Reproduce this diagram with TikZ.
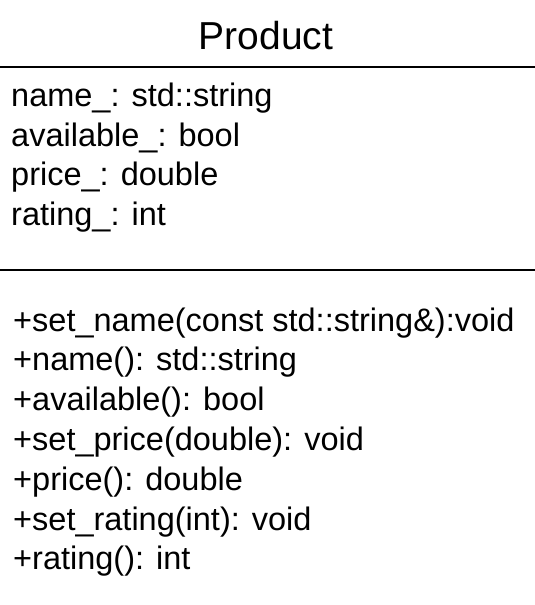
\documentclass[tikz,border=0pt]{standalone}
\usepackage{fontspec}
\setmainfont{Liberation Sans}
\begin{document}
\begin{tikzpicture}[x=1pt,y=-1pt,
  member/.style={anchor=west,inner sep=0pt,font=\fontsize{32.5}{36}\selectfont},
  title/.style={inner sep=0pt,font=\fontsize{39}{44}\selectfont},
  rule/.style={line width=1.6pt}]
\useasboundingbox (0,0) rectangle (535,605);
\node[title] (t) at (266,36) {Product};
\coordinate (r1a) at (0,67); \coordinate (r1b) at (535,67);
\draw[rule] (r1a) -- (r1b);
\node[member] (a1) at (11,98) {name\_: std::string};
\node[member] (a2) at (11,138) {available\_: bool};
\node[member] (a3) at (11,177) {price\_: double};
\node[member] (a4) at (11,217) {rating\_: int};
\coordinate (r2a) at (0,270); \coordinate (r2b) at (535,270);
\draw[rule] (r2a) -- (r2b);
\node[member] (m1) at (13,323) {+set\_name(const std::string\&):void};
\node[member] (m2) at (13,362) {+name(): std::string};
\node[member] (m3) at (13,402) {+available(): bool};
\node[member] (m4) at (13,442) {+set\_price(double): void};
\node[member] (m5) at (13,482) {+price(): double};
\node[member] (m6) at (13,522) {+set\_rating(int): void};
\node[member] (m7) at (13,561) {+rating(): int};
\end{tikzpicture}
\end{document}
